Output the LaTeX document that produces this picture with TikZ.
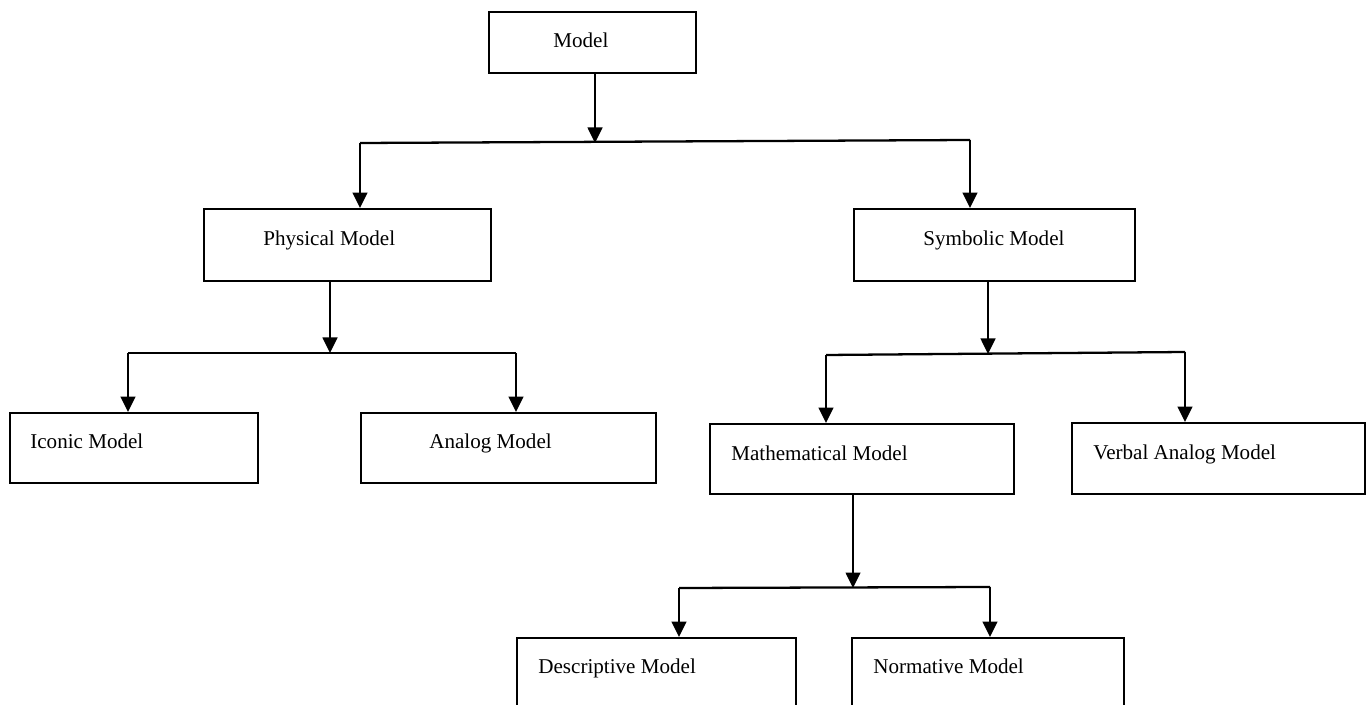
\documentclass[tikz,border=0pt]{standalone}
\usepackage{fontspec}
\setmainfont{Liberation Serif}
\usetikzlibrary{arrows.meta,fit}
\begin{document}
\begin{tikzpicture}[x=0.02cm,y=-0.02cm,
  box/.style={draw, line width=1.1pt, inner sep=0pt},
  lbl/.style={inner sep=0pt, anchor=base west, font=\fontsize{12}{14}\selectfont},
  arr/.style={line width=1.5pt, -{Triangle[length=0.31cm,width=0.29cm]}},
  conn/.style={line width=1.3pt}]
\clip (0,0) rectangle (1370,705);
\fill[white] (0,0) rectangle (1370,705);
% boxes
\node[box, fit={(489,12) (696,73)}] (model) {};
\node[lbl] (modelT) at (553,48) {Model};
\node[box, fit={(204,209) (491,281)}] (phys) {};
\node[lbl] (physT) at (263,246) {Physical Model};
\node[box, fit={(854,209) (1135,281)}] (symb) {};
\node[lbl] (symbT) at (923,246) {Symbolic Model};
\node[box, fit={(10,413) (258,483)}] (icon) {};
\node[lbl] (iconT) at (30,449) {Iconic Model};
\node[box, fit={(361,413) (656,483)}] (anal) {};
\node[lbl] (analT) at (429,449) {Analog Model};
\node[box, fit={(710,424) (1014,494)}] (math) {};
\node[lbl] (mathT) at (731,461) {Mathematical Model};
\node[box, fit={(1072,423) (1365,494)}] (verb) {};
\node[lbl] (verbT) at (1093,460) {Verbal Analog Model};
\node[box, fit={(517,638) (796,730)}] (desc) {};
\node[lbl] (descT) at (538,674) {Descriptive Model};
\node[box, fit={(852,638) (1124,730)}] (norm) {};
\node[lbl] (normT) at (873,674) {Normative Model};
% junctions
\coordinate (jm) at (595,143);
\coordinate (tl) at (360,143);
\coordinate (tr) at (970,140);
\coordinate (jp) at (330,353);
\coordinate (pl) at (128,353);
\coordinate (pr) at (516,353);
\coordinate (js) at (988,354);
\coordinate (sl) at (826,355);
\coordinate (sr) at (1185,352);
\coordinate (jx) at (853,588);
\coordinate (ml) at (679,588);
\coordinate (mr) at (990,587);
% connectors
\draw[arr] (model.south -| jm) -- (jm);
\draw[conn] (tl) -- (tr);
\draw[arr] (tl) -- (phys.north -| tl);
\draw[arr] (tr) -- (symb.north -| tr);
\draw[arr] (phys.south -| jp) -- (jp);
\draw[conn] (pl) -- (pr);
\draw[arr] (pl) -- (icon.north -| pl);
\draw[arr] (pr) -- (anal.north -| pr);
\draw[arr] (symb.south -| js) -- (js);
\draw[conn] (sl) -- (sr);
\draw[arr] (sl) -- (math.north -| sl);
\draw[arr] (sr) -- (verb.north -| sr);
\draw[arr] (math.south -| jx) -- (jx);
\draw[conn] (ml) -- (mr);
\draw[arr] (ml) -- (desc.north -| ml);
\draw[arr] (mr) -- (norm.north -| mr);
\end{tikzpicture}
\end{document}
